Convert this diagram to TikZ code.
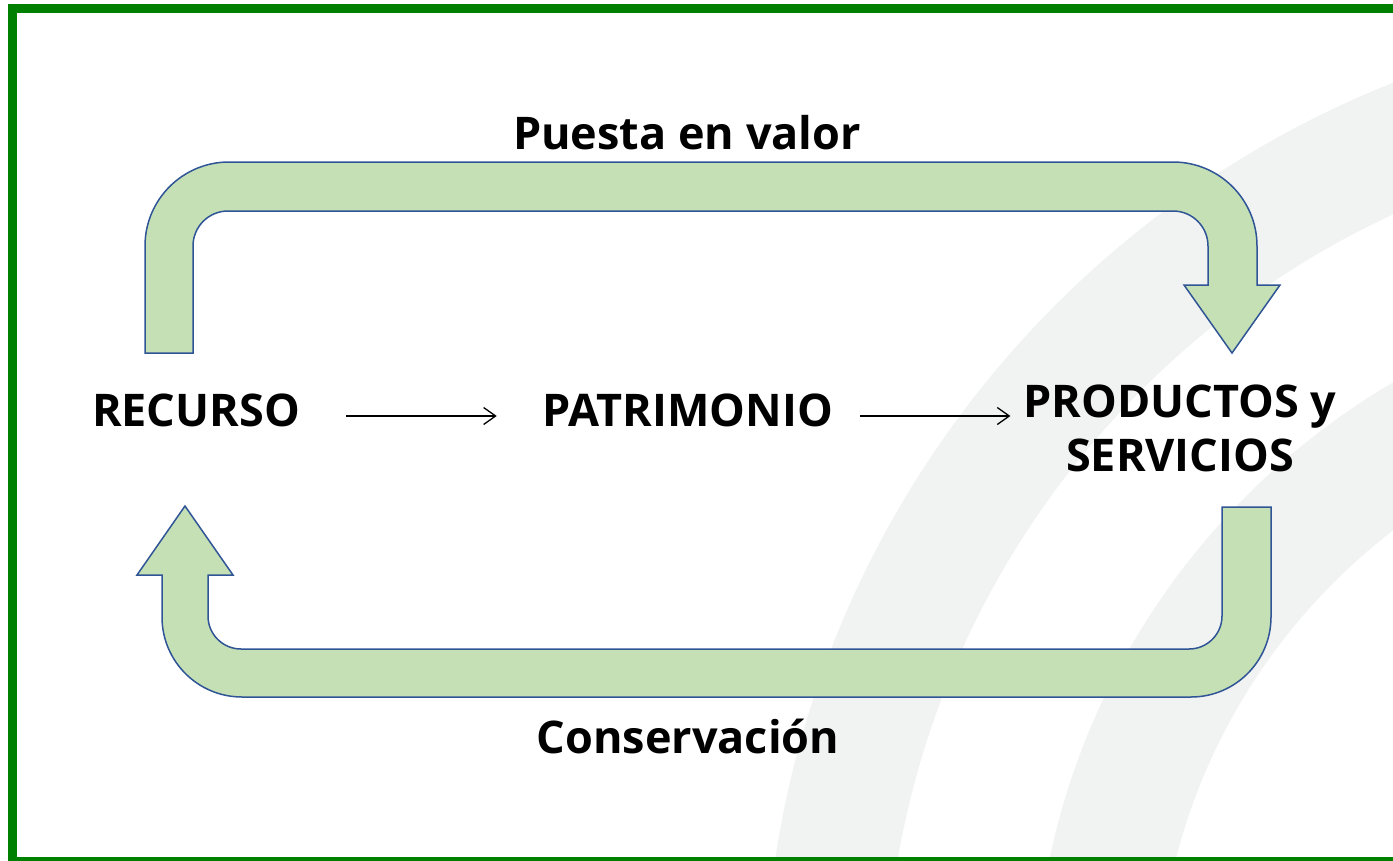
\documentclass[tikz,border=0pt]{standalone}
\usepackage{fontspec}
\setmainfont{Open Sans}
\usetikzlibrary{arrows.meta}
\definecolor{Verde}{HTML}{008000}
\definecolor{Relleno}{HTML}{C5E0B4}
\definecolor{Borde}{HTML}{2F5597}
\definecolor{Fondo}{HTML}{F1F2F2}
\tikzset{
  texto/.style={font=\fontsize{45}{54}\selectfont\bfseries, inner sep=0pt, align=center},
  bloque/.style={draw=Borde, line width=1.5pt, fill=Relleno, line join=miter},
  enlace/.style={line width=1.3pt, -{Straight Barb[length=12pt,width=17pt]}},
  banda/.style={fill=Fondo, draw=none, even odd rule}
}

\begin{document}
\begin{tikzpicture}[x=1pt,y=-1pt]
    \useasboundingbox (0,0) rectangle (1393,860);
    \clip (0,0) rectangle (1393,860);

    \fill[banda] (1760,1009) circle[radius=996pt] (1760,1009) circle[radius=875pt];
    \fill[banda] (1760,1009) circle[radius=726pt] (1760,1009) circle[radius=603pt];

    \draw[Verde, line width=9pt] (12.5,8.5) rectangle (1397,861.5);

    \draw[bloque] (145,353) -- (145,246) arc[start angle=180, end angle=90, radius=84pt]
        -- (1173,162) arc[start angle=90, end angle=0, radius=84pt]
        -- (1257,285) -- (1280,285) -- (1232,353) -- (1184,285) -- (1208,285)
        -- (1208,246) arc[start angle=0, end angle=90, radius=35pt]
        -- (228,211) arc[start angle=90, end angle=180, radius=35pt]
        -- (193,353) -- cycle;

    \draw[bloque] (1222,507) -- (1271,507) -- (1271,617) arc[start angle=0, end angle=-90, radius=80pt]
        -- (242,697) arc[start angle=270, end angle=180, radius=80pt]
        -- (162,575) -- (137,575) -- (185,506) -- (233,575) -- (208,575)
        -- (208,616) arc[start angle=180, end angle=270, radius=33pt]
        -- (1189,649) arc[start angle=270, end angle=360, radius=33pt]
        -- cycle;

    \node[texto] (valor) at (687,133) {Puesta en valor};
    \node[texto] (recurso) at (196,410) {RECURSO};
    \node[texto] (patrimonio) at (688,410) {PATRIMONIO};
    \node[texto] (productos) at (1180,428) {PRODUCTOS y\\SERVICIOS};
    \node[texto] (conservacion) at (688,736) {Conservación};

    \draw[enlace, shorten <=46pt, shorten >=46pt] ([yshift=-6pt]recurso.east) -- ([yshift=-6pt]patrimonio.west);
    \draw[enlace, shorten <=27pt, shorten >=13pt] ([yshift=-6pt]patrimonio.east) -- ([yshift=-6pt]patrimonio.east -| productos.west);
\end{tikzpicture}
\end{document}
